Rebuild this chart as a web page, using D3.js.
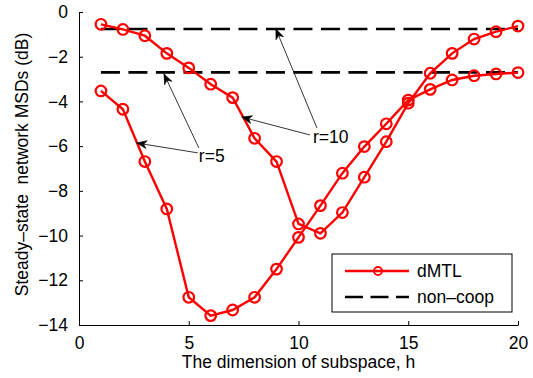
<!DOCTYPE html>
<html>
<head>
<meta charset="utf-8">
<script src="https://cdn.jsdelivr.net/npm/d3@7"></script>
<style>
  body { margin: 0; background: #fff; }
  svg { display: block; font-family: "Liberation Sans", Arial, sans-serif; }
  .axis path, .axis line { stroke: #000; stroke-width: 1; }
  .axis text { font-size: 17.5px; fill: #000; font-family: "Liberation Sans", Arial, sans-serif; }
</style>
</head>
<body>
<div id="chart"></div>
<script>
// subspace dimension h
const dims = [1, 2, 3, 4, 5, 6, 7, 8, 9, 10, 11, 12, 13, 14, 15, 16, 17, 18, 19, 20];
// dMTL steady-state MSD (dB), r=5 and r=10
const msdR5 = [-3.53, -4.35, -6.69, -8.81, -12.76, -13.58, -13.33, -12.76, -11.5, -10.08,
               -8.66, -7.21, -6.02, -5.0, -3.94, -3.46, -3.04, -2.85, -2.77, -2.71];
const msdR10 = [-0.55, -0.78, -1.06, -1.85, -2.5, -3.23, -3.83, -5.65, -6.69, -9.48,
                -9.9, -8.97, -7.39, -5.8, -4.08, -2.74, -1.85, -1.21, -0.88, -0.63];
// non-coop levels (dB)
const nonCoop = [-0.76, -2.7];
const xTicks = [0, 5, 10, 15, 20];
const yTicks = [0, -2, -4, -6, -8, -10, -12, -14];

// annotation text and arrows (data coords: [fromX, fromY, toX, toY])
const notes = [
  { label: 'r=10', x: 10.66, y: -5.86, arrows: [[10.84, -5.19, 8.97, -0.76], [10.52, -5.5, 7.42, -4.7]] },
  { label: 'r=5',  x: 5.46,  y: -6.72, arrows: [[5.46, -6.08, 3.87, -2.77], [5.41, -6.3, 2.63, -5.86]] }
];

const width = 533, height = 378;
const margin = { top: 12, right: 15, bottom: 53, left: 79 };
const fs = '17.5px';

const svg = d3.select('#chart').append('svg')
  .attr('width', width).attr('height', height);

const x = d3.scaleLinear().domain([0, 20]).range([margin.left, width - margin.right]);
const y = d3.scaleLinear().domain([-14, 0]).range([height - margin.bottom, margin.top]);

// arrow head
svg.append('defs').append('marker')
  .attr('id', 'vee')
  .attr('viewBox', '-11 -5 12 10')
  .attr('refX', 0).attr('refY', 0)
  .attr('markerWidth', 12).attr('markerHeight', 10)
  .attr('markerUnits', 'userSpaceOnUse')
  .attr('orient', 'auto')
  .append('path')
  .attr('d', 'M-10,-4 L0,0 L-10,4 L-7,0 Z')
  .attr('fill', '#000').attr('stroke', '#000').attr('stroke-width', 0.6);

// axes
svg.append('g').attr('class', 'axis')
  .attr('transform', `translate(0,${height - margin.bottom})`)
  .call(d3.axisBottom(x).tickValues(xTicks).tickSizeInner(-4).tickSizeOuter(0).tickPadding(12));

svg.append('g').attr('class', 'axis')
  .attr('transform', `translate(${margin.left},0)`)
  .call(d3.axisLeft(y).tickValues(yTicks).tickSizeInner(-4).tickSizeOuter(0).tickPadding(11)
    .tickFormat(d => d < 0 ? '\u2212' + Math.abs(d) : d));

// non-coop dashed lines
svg.selectAll('.noncoop')
  .data(nonCoop)
  .enter().append('line')
  .attr('class', 'noncoop')
  .attr('x1', x(dims[0])).attr('x2', x(dims[dims.length - 1]))
  .attr('y1', d => y(d)).attr('y2', d => y(d))
  .attr('stroke', '#000').attr('stroke-width', 2.6)
  .attr('stroke-dasharray', '19,8.5');

// dMTL curves
const line = d3.line().x((d, i) => x(dims[i])).y(d => y(d));
[msdR5, msdR10].forEach(series => {
  svg.append('path')
    .datum(series)
    .attr('d', line)
    .attr('fill', 'none').attr('stroke', '#ff0000').attr('stroke-width', 2.4);
  svg.append('g').selectAll('circle')
    .data(series)
    .enter().append('circle')
    .attr('cx', (d, i) => x(dims[i])).attr('cy', d => y(d))
    .attr('r', 5.3)
    .attr('fill', 'none').attr('stroke', '#ff0000').attr('stroke-width', 2.2);
});

// annotations
notes.forEach(n => {
  n.arrows.forEach(a => {
    svg.append('line')
      .attr('x1', x(a[0])).attr('y1', y(a[1]))
      .attr('x2', x(a[2])).attr('y2', y(a[3]))
      .attr('stroke', '#000').attr('stroke-width', 0.8)
      .attr('marker-end', 'url(#vee)');
  });
  svg.append('text')
    .attr('x', x(n.x)).attr('y', y(n.y))
    .style('font-size', fs)
    .text(n.label);
});

// axis labels
svg.append('text')
  .attr('x', (margin.left + width - margin.right) / 2).attr('y', 368)
  .attr('text-anchor', 'middle').style('font-size', fs)
  .text('The dimension of subspace, h');

svg.append('text')
  .attr('transform', `translate(28,${(margin.top + height - margin.bottom) / 2 - 4}) rotate(-90)`)
  .attr('text-anchor', 'middle').style('font-size', fs)
  .attr('xml:space', 'preserve')
  .text('Steady\u2013state  network MSDs (dB)');

// legend
const lg = svg.append('g').attr('transform', 'translate(332,254)');
lg.append('rect')
  .attr('width', 180).attr('height', 58)
  .attr('fill', '#fff').attr('stroke', '#000').attr('stroke-width', 1);
lg.append('line')
  .attr('x1', 13).attr('x2', 77).attr('y1', 17).attr('y2', 17)
  .attr('stroke', '#ff0000').attr('stroke-width', 2.4);
lg.append('circle')
  .attr('cx', 46).attr('cy', 17).attr('r', 4)
  .attr('fill', 'none').attr('stroke', '#ff0000').attr('stroke-width', 1.8);
lg.append('text').attr('x', 85).attr('y', 23).style('font-size', fs).text('dMTL');
lg.append('line')
  .attr('x1', 13).attr('x2', 77).attr('y1', 43).attr('y2', 43)
  .attr('stroke', '#000').attr('stroke-width', 2.6)
  .attr('stroke-dasharray', '18,7.5');
lg.append('text').attr('x', 85).attr('y', 49).style('font-size', fs).text('non\u2013coop');
</script>
</body>
</html>
